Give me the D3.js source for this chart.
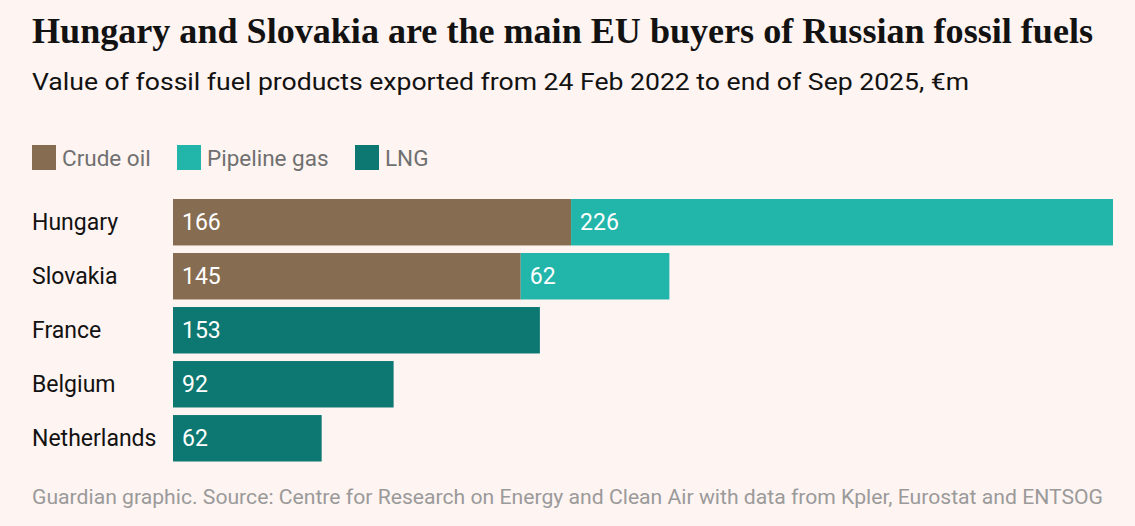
<!DOCTYPE html>
<html>
<head>
<meta charset="utf-8">
<script src="https://cdn.jsdelivr.net/npm/d3@7"></script>
<style>
  html, body { margin: 0; padding: 0; background: #fef4f1; }
  svg { display: block; }
</style>
</head>
<body>
<svg id="chart" width="1135" height="526"></svg>
<script>
const countries = ["Hungary", "Slovakia", "France", "Belgium", "Netherlands"];
const crudeOil = [166, 145, 0, 0, 0];
const pipelineGas = [226, 62, 0, 0, 0];
const lng = [0, 0, 153, 92, 62];
const seriesNames = ["Crude oil", "Pipeline gas", "LNG"];
const seriesColors = ["#866c50", "#22b5aa", "#0d7872"];
const titleText = "Hungary and Slovakia are the main EU buyers of Russian fossil fuels";
const subtitleText = "Value of fossil fuel products exported from 24 Feb 2022 to end of Sep 2025, €m";
const sourceText = "Guardian graphic. Source: Centre for Research on Energy and Clean Air with data from Kpler, Eurostat and ENTSOG";

const svg = d3.select("#chart");
svg.append("rect").attr("width", 1135).attr("height", 526).attr("fill", "#fef4f1");

const sans = "Roboto, 'Noto Sans', sans-serif";

svg.append("text").attr("x", 32).attr("y", 43)
  .attr("font-family", "'Liberation Serif', 'DejaVu Serif', serif")
  .attr("font-weight", "bold").attr("font-size", 35).attr("fill", "#121212")
  .attr("textLength", 1061).attr("lengthAdjust", "spacingAndGlyphs")
  .text(titleText);

svg.append("text").attr("x", 32).attr("y", 90)
  .attr("font-family", sans).attr("font-size", 24).attr("fill", "#121212")
  .attr("textLength", 937).attr("lengthAdjust", "spacingAndGlyphs")
  .text(subtitleText);

// Legend
const legendX = [32, 177, 355];
const legend = svg.append("g");
seriesNames.forEach((name, i) => {
  legend.append("rect").attr("x", legendX[i]).attr("y", 145).attr("width", 24).attr("height", 25)
    .attr("fill", seriesColors[i]);
  legend.append("text").attr("x", legendX[i] + 30).attr("y", 166)
    .attr("font-family", sans).attr("font-size", 22.5).attr("fill", "#707070")
    .text(name);
});

// Data stacking
const rows = countries.map((c, i) => ({ country: c, crude: crudeOil[i], pipeline: pipelineGas[i], lng: lng[i] }));
const keys = ["crude", "pipeline", "lng"];
const stacked = d3.stack().keys(keys)(rows);

const x = d3.scaleLinear().domain([0, d3.max(rows, d => d.crude + d.pipeline + d.lng)]).range([173, 1113]);
const y = d3.scaleBand().domain(countries).range([199, 461.5]).paddingInner(0.14).paddingOuter(0);

// Country labels via axis
const yAxis = svg.append("g").attr("transform", "translate(32,0)")
  .call(d3.axisLeft(y).tickSize(0).tickPadding(0));
yAxis.select(".domain").remove();
yAxis.selectAll("text")
  .attr("text-anchor", "start").attr("x", 0).attr("dy", null).attr("y", 8)
  .attr("font-family", sans).attr("font-size", 23).attr("fill", "#121212");

const layers = svg.append("g").selectAll("g").data(stacked).join("g")
  .attr("fill", (d, i) => seriesColors[i]);

layers.selectAll("rect").data(d => d.filter(s => s[1] - s[0] > 0).map(s => ({ s, country: s.data.country })))
  .join("rect")
  .attr("x", d => x(d.s[0]))
  .attr("y", d => y(d.country))
  .attr("width", d => x(d.s[1]) - x(d.s[0]))
  .attr("height", y.bandwidth());

layers.selectAll("text").data(d => d.filter(s => s[1] - s[0] > 0).map(s => ({ s, country: s.data.country })))
  .join("text")
  .attr("x", d => x(d.s[0]) + 9)
  .attr("y", d => y(d.country) + y.bandwidth() / 2 + 8)
  .attr("font-family", sans).attr("font-size", 23).attr("fill", "#ffffff")
  .text(d => d.s[1] - d.s[0]);

svg.append("text").attr("x", 32).attr("y", 504)
  .attr("font-family", sans).attr("font-size", 20).attr("fill", "#9a9a9a")
  .attr("textLength", 1071).attr("lengthAdjust", "spacingAndGlyphs")
  .text(sourceText);
</script>
</body>
</html>
